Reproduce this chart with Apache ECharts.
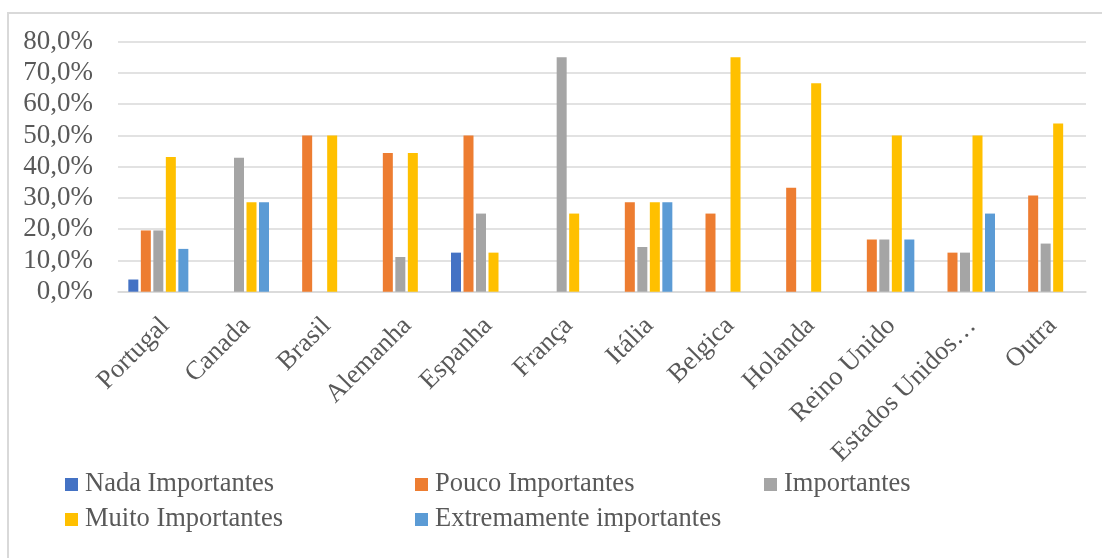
<!DOCTYPE html>
<html>
<head>
<meta charset="utf-8">
<script src="https://cdn.jsdelivr.net/npm/echarts@6/dist/echarts.min.js"></script>
<style>
  html, body { margin: 0; padding: 0; background: #fff; }
  #frame { position: absolute; left: 7px; top: 12px; right: -4px; bottom: -4px;
           border-left: 2px solid #d9d9d9; border-top: 2px solid #d9d9d9; }
  #chart { position: absolute; left: 0; top: 0; width: 1102px; height: 558px; }
</style>
</head>
<body>
<div id="frame"></div>
<div id="chart"></div>
<script>
// Countries on the category axis
const countries = ['Portugal', 'Canada', 'Brasil', 'Alemanha', 'Espanha', 'França',
  'Itália', 'Belgica', 'Holanda', 'Reino Unido', 'Estados Unidos…', 'Outra'];

// Share of answers per importance level (%)
const nadaImportantes        = [3.9, 0, 0, 0, 12.5, 0, 0, 0, 0, 0, 0, 0];
const poucoImportantes       = [19.6, 0, 50.0, 44.4, 50.0, 0, 28.6, 25.0, 33.3, 16.7, 12.5, 30.8];
const importantes            = [19.6, 42.9, 0, 11.1, 25.0, 75.0, 14.3, 0, 0, 16.7, 12.5, 15.4];
const muitoImportantes       = [43.1, 28.6, 50.0, 44.4, 12.5, 25.0, 28.6, 75.0, 66.7, 50.0, 50.0, 53.8];
const extremamenteImportantes = [13.7, 28.6, 0, 0, 0, 0, 28.6, 0, 0, 16.7, 25.0, 0];

const seriesNames = ['Nada Importantes', 'Pouco Importantes', 'Importantes',
  'Muito Importantes', 'Extremamente importantes'];
const seriesValues = [nadaImportantes, poucoImportantes, importantes,
  muitoImportantes, extremamenteImportantes];
const colors = ['#4472C4', '#ED7D31', '#A5A5A5', '#FFC000', '#5B9BD5'];

// y-axis range and step (%)
const yMin = 0, yMax = 80, yStep = 10;

const FONT = '"Liberation Serif", "Times New Roman", serif';
const TEXT = '#595959';

// two rows of legend entries laid out in fixed columns
const legendCols = [60, 410, 759];
const legendRows = [466, 501];
const legendSlots = [[0, 0], [1, 0], [2, 0], [0, 1], [1, 1]];

const chart = echarts.init(document.getElementById('chart'), null, { renderer: 'canvas' });

chart.setOption({
  animation: false,
  color: colors,
  grid: { left: 118, right: 16, top: 41.7, bottom: 266.3, containLabel: false },
  legend: seriesNames.map((name, i) => ({
    data: [name],
    left: legendCols[legendSlots[i][0]],
    top: legendRows[legendSlots[i][1]],
    icon: 'rect',
    itemWidth: 13,
    itemHeight: 13,
    selectedMode: false,
    textStyle: { fontFamily: FONT, fontSize: 26.5, color: TEXT, padding: [0, 0, 0, 2] }
  })),
  xAxis: {
    type: 'category',
    data: countries,
    axisLine: { lineStyle: { color: '#d9d9d9', width: 1.5 } },
    axisTick: { show: false },
    axisLabel: {
      rotate: 45,
      interval: 0,
      margin: 23,
      verticalAlign: 'top',
      lineHeight: 20,
      fontFamily: FONT,
      fontSize: 26.5,
      color: TEXT
    }
  },
  yAxis: {
    type: 'value',
    min: yMin,
    max: yMax,
    interval: yStep,
    axisLine: { show: false },
    axisTick: { show: false },
    splitLine: { lineStyle: { color: '#d9d9d9', width: 1.5 } },
    axisLabel: {
      margin: 25,
      fontFamily: FONT,
      fontSize: 27,
      color: TEXT,
      formatter: v => v.toFixed(1).replace('.', ',') + '%'
    }
  },
  series: seriesNames.map((name, i) => ({
    name,
    type: 'bar',
    data: seriesValues[i],
    barGap: '25%',
    barCategoryGap: '25.6%',
    itemStyle: { color: colors[i] }
  }))
});
</script>
</body>
</html>
